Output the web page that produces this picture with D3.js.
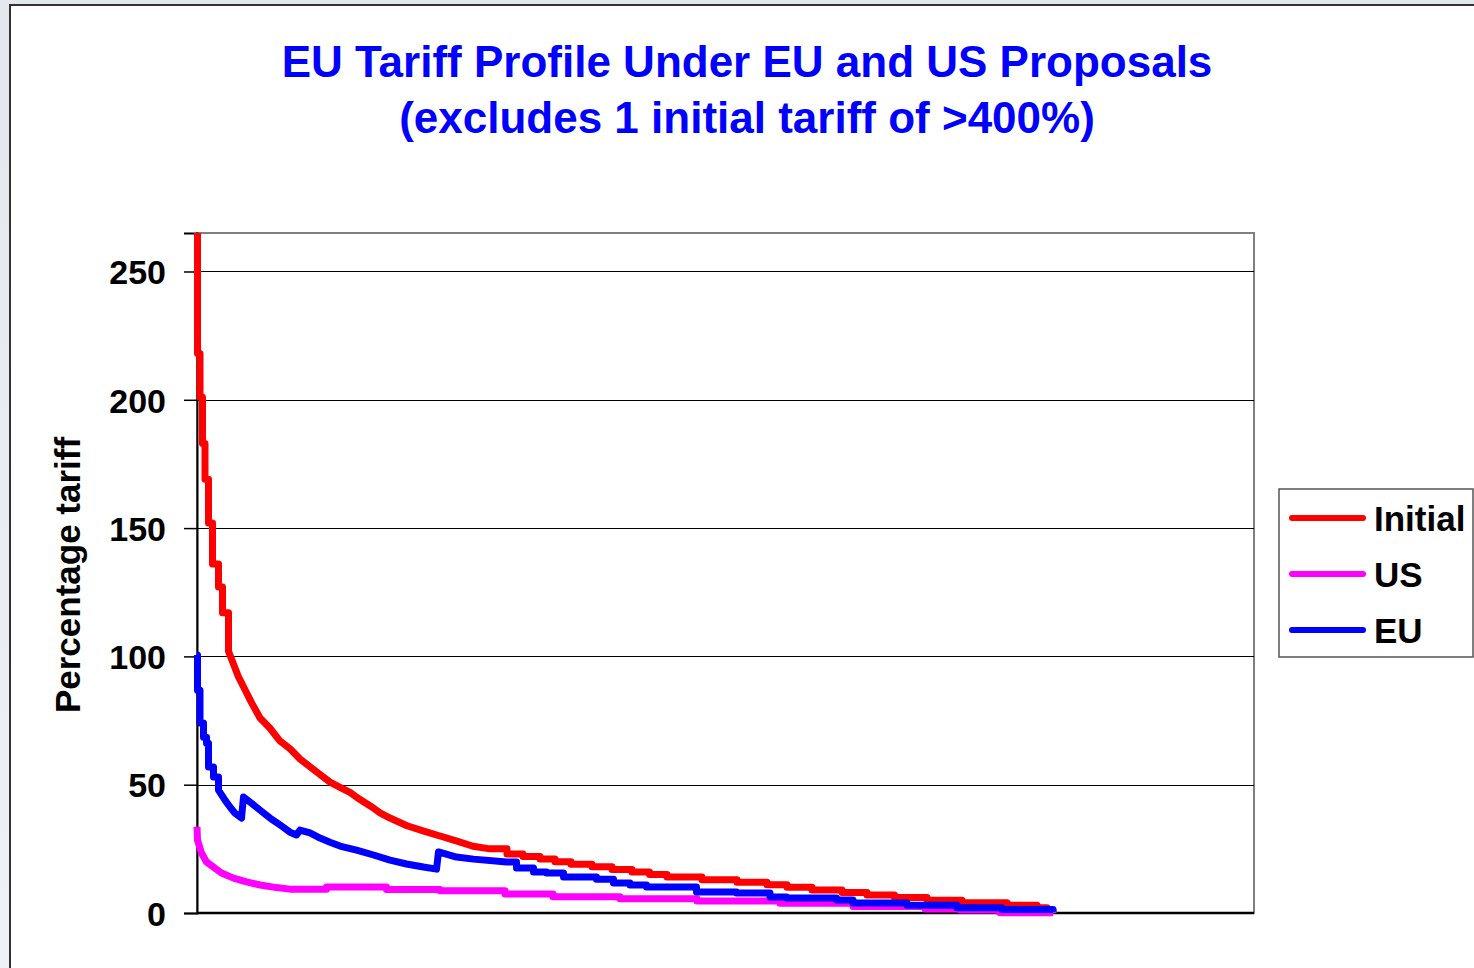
<!DOCTYPE html>
<html>
<head>
<meta charset="utf-8">
<script src="https://cdn.jsdelivr.net/npm/d3@7"></script>
<style>
  html, body { margin: 0; padding: 0; background: #ffffff; }
  svg { display: block; font-family: "Liberation Sans", Arial, sans-serif; }
</style>
</head>
<body>
<svg id="chart" width="1474" height="968"></svg>
<script>
// Tariff lines ranked from highest to lowest tariff: [rank, percentage tariff]
const initialSeries = [
  [0, 265], [1, 218], [6, 201], [11, 183], [16, 169], [23, 152], [31, 136], [43, 127],
  [51, 117], [63, 102], [83, 92], [96, 87], [109, 82], [126, 76], [146, 72], [166, 67],
  [186, 64], [206, 60], [226, 57], [246, 54], [266, 51], [286, 49], [306, 47], [320, 45],
  [352, 41], [366, 39], [386, 37], [420, 34], [452, 32], [486, 30], [520, 28], [552, 26],
  [586, 25], [620, 23], [652, 22], [686, 21], [716, 20], [748, 19], [790, 18], [830, 17],
  [870, 16], [905, 15], [940, 14], [1010, 13], [1080, 12], [1140, 11], [1180, 10], [1230, 9],
  [1290, 8], [1340, 7], [1395, 6], [1460, 5], [1530, 4], [1620, 3], [1680, 2], [1700, 1],
  [1712, 0.4]
];
const usSeries = [
  [0, 33.6], [1, 28.4], [9, 23.4], [19, 19.9], [33, 17.9], [49, 15.6], [73, 13.6], [99, 12.1],
  [126, 10.9], [159, 9.9], [186, 9.3], [259, 10.1], [379, 9.2], [486, 8.7], [616, 7.4],
  [712, 6.3], [846, 5.6], [1000, 4.7], [1166, 3.8], [1312, 2.5], [1456, 1.6], [1526, 1.2],
  [1606, 0.1], [1712, 0]
];
const euSeries = [
  [0, 100.5], [1, 86.8], [6, 74], [13, 68.5], [19, 66.2], [23, 56.9], [33, 53], [43, 47.9],
  [56, 44], [66, 41.3], [76, 38.9], [89, 37], [93, 45.2], [109, 42.8], [126, 40.1], [146, 37],
  [166, 34.3], [186, 31.5], [199, 30.4], [206, 32.3], [226, 31.2], [246, 29.2], [266, 27.6],
  [286, 26.1], [319, 24.5], [353, 22.6], [386, 20.6], [419, 19.1], [453, 17.9], [479, 17.1],
  [483, 23.8], [519, 21.8], [553, 21], [619, 19.9], [639, 17.5], [673, 16], [699, 15.6],
  [733, 14], [799, 13.2], [833, 11.7], [866, 10.9], [899, 10.1], [999, 8.2], [1079, 7.8],
  [1146, 6.2], [1179, 5.8], [1279, 5.1], [1312, 3.9], [1420, 3], [1520, 2], [1610, 1.4],
  [1712, 0.5]
];

const seriesNames = ["Initial", "US", "EU"];
const seriesColors = ["#ff0000", "#ff00ff", "#0000ff"];
const yTicks = [0, 50, 100, 150, 200, 250];
const titleLines = ["EU Tariff Profile Under EU and US Proposals", "(excludes 1 initial tariff of >400%)"];
const yAxisTitle = "Percentage tariff";

// where each series runs in coarse steps: [steps up to rank, steps again from rank]
const stepRanges = [[63, 560], [0, 186], [43, 560]];

const svg = d3.select("#chart");

// slide background strip and chart frame
const defs = svg.append("defs");
const grad = defs.append("linearGradient").attr("id", "slideBg").attr("x1", 0).attr("y1", 0).attr("x2", 0).attr("y2", 1);
grad.append("stop").attr("offset", "0%").attr("stop-color", "#e4e8ee");
grad.append("stop").attr("offset", "100%").attr("stop-color", "#eef1f5");
svg.append("rect").attr("x", 0).attr("y", 0).attr("width", 1474).attr("height", 968).attr("fill", "url(#slideBg)");
svg.append("rect").attr("x", 10).attr("y", 5).attr("width", 1480).attr("height", 980)
  .attr("fill", "#ffffff").attr("stroke", "#333333").attr("stroke-width", 2);

// title
svg.append("text")
  .attr("x", 747).attr("y", 77)
  .attr("text-anchor", "middle")
  .attr("font-size", 44).attr("font-weight", "bold").attr("fill", "#0000ff")
  .selectAll("tspan").data(titleLines).join("tspan")
  .attr("x", 747).attr("dy", (d, i) => i === 0 ? 0 : 56)
  .text(d => d);

// plot area
const plot = { left: 197, right: 1254, top: 233, bottom: 913 };
const x = d3.scaleLinear().domain([0, 2114]).range([plot.left, plot.right]);
const y = d3.scaleLinear().domain([0, 265]).range([plot.bottom, plot.top]);

svg.append("rect")
  .attr("x", plot.left).attr("y", plot.top)
  .attr("width", plot.right - plot.left).attr("height", plot.bottom - plot.top)
  .attr("fill", "#ffffff").attr("stroke", "#808080").attr("stroke-width", 2);

// gridlines
svg.append("g")
  .selectAll("line").data(yTicks.filter(d => d > 0)).join("line")
  .attr("x1", plot.left).attr("x2", plot.right)
  .attr("y1", d => Math.round(y(d)) + 0.5).attr("y2", d => Math.round(y(d)) + 0.5)
  .attr("stroke", "#000000").attr("stroke-width", 1);

// y axis
const yAxis = d3.axisLeft(y).tickValues(yTicks).tickSize(13).tickPadding(18).tickFormat(d3.format("d"));
const gy = svg.append("g").attr("transform", `translate(${plot.left},0)`).call(yAxis);
gy.select(".domain").attr("stroke", "#000000").attr("stroke-width", 2);
gy.selectAll(".tick line").attr("stroke", "#000000").attr("stroke-width", 1.5);
gy.selectAll(".tick text")
  .attr("font-size", 34).attr("font-weight", "bold").attr("fill", "#000000")
  .attr("font-family", "'Liberation Sans', Arial, sans-serif").attr("dy", "0.36em");

// x axis baseline
svg.append("line")
  .attr("x1", plot.left).attr("x2", plot.right)
  .attr("y1", plot.bottom).attr("y2", plot.bottom)
  .attr("stroke", "#000000").attr("stroke-width", 2.5);

// y axis title
svg.append("text")
  .attr("transform", `translate(80,575) rotate(-90)`)
  .attr("text-anchor", "middle")
  .attr("font-size", 35).attr("font-weight", "bold").attr("fill", "#000000")
  .text(yAxisTitle);

// series lines: stepped head, sloped middle, stepped tail
defs.append("clipPath").attr("id", "plotClip").append("rect")
  .attr("x", plot.left - 4).attr("y", plot.top)
  .attr("width", plot.right - plot.left + 4).attr("height", plot.bottom - plot.top + 4);

const slopeLine = d3.line().x(d => x(d[0])).y(d => y(d[1])).curve(d3.curveLinear);
const stepLine = d3.line().x(d => x(d[0])).y(d => y(d[1])).curve(d3.curveStepAfter);
const allSeries = [initialSeries, usSeries, euSeries];

function seriesPath(d, i) {
  const [headEnd, tailStart] = stepRanges[i];
  const k1 = d.findIndex(p => p[0] >= headEnd);
  const k2 = d.findIndex(p => p[0] >= tailStart);
  let path = "";
  if (k1 > 0) path += stepLine(d.slice(0, k1 + 1));
  const mid = slopeLine(d.slice(k1, k2 + 1));
  path += path ? mid.replace(/^M/, "L") : mid;
  path += stepLine(d.slice(k2)).replace(/^M/, "L");
  return path;
}

svg.append("g").attr("clip-path", "url(#plotClip)")
  .selectAll("path").data(allSeries).join("path")
  .attr("d", seriesPath)
  .attr("fill", "none")
  .attr("stroke", (d, i) => seriesColors[i])
  .attr("stroke-width", 7)
  .attr("stroke-linejoin", "round")
  .attr("stroke-linecap", "butt");

// legend
const legend = svg.append("g");
legend.append("rect")
  .attr("x", 1279).attr("y", 489).attr("width", 194).attr("height", 168)
  .attr("fill", "#ffffff").attr("stroke", "#555555").attr("stroke-width", 1.5);
const items = legend.selectAll("g.item").data(seriesNames).join("g")
  .attr("class", "item")
  .attr("transform", (d, i) => `translate(0,${518 + i * 56})`);
items.append("line")
  .attr("x1", 1292).attr("x2", 1363).attr("y1", 0).attr("y2", 0)
  .attr("stroke", (d, i) => seriesColors[i]).attr("stroke-width", 6).attr("stroke-linecap", "round");
items.append("text")
  .attr("x", 1374).attr("y", 0).attr("dy", "0.36em")
  .attr("font-size", 35).attr("font-weight", "bold").attr("fill", "#000000")
  .text(d => d);
</script>
</body>
</html>
